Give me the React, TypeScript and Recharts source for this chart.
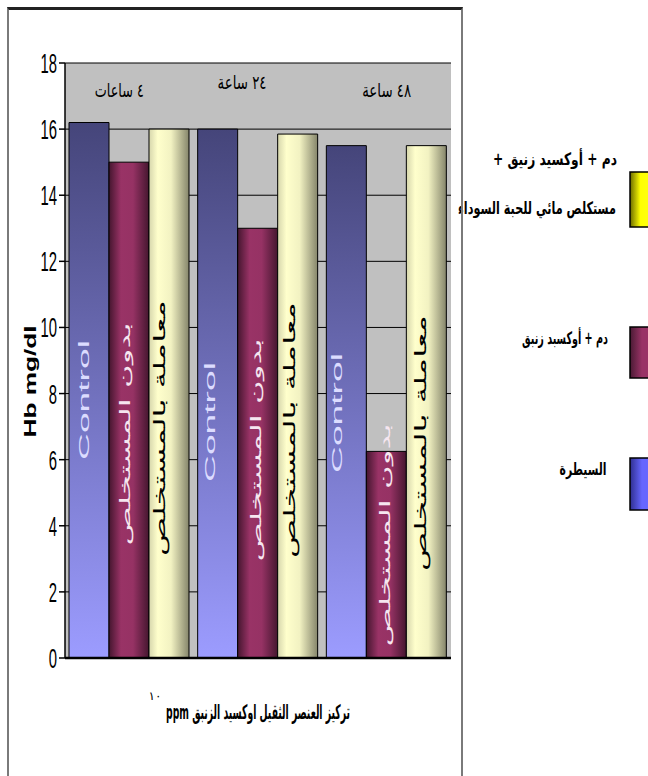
import React, { useLayoutEffect, useRef, useState } from "react";
import {
  BarChart, Bar, XAxis, YAxis, CartesianGrid, ReferenceLine,
  Legend, LabelList, Label,
} from "recharts";

// Hb level (mg/dl) per exposure time
const hours = ["٤ ساعات", "٢٤ ساعة", "٤٨ ساعة"];
const control = [16.2, 16.0, 15.5];
const untreated = [15.0, 13.0, 6.25];
const treated = [16.0, 15.85, 15.5];
const yTicks = [0, 2, 4, 6, 8, 10, 12, 14, 16, 18];

const names = {
  control: "السيطرة",
  untreated: "دم + أوكسبد زنبق",
  treated: "دم + أوكسيد زنيق  + مستكلص مائي للحبة السوداء",
};
const barTexts = {
  control: "Control",
  untreated: "بدون المستخلص",
  treated: "معاملة بالمستخلص",
};

const data = hours.map((h, i) => ({
  hours: h,
  control: control[i],
  untreated: untreated[i],
  treated: treated[i],
}));

const W = 648;
const H = 776;
const TOP = 63;
const AR = "'DejaVu Sans', sans-serif";
const LAT = "'Liberation Sans', Arial, sans-serif";

// text squeezed/stretched horizontally to a given run length
function FitText({ x, y, width, rotate = 0, children, ...rest }: any) {
  const ref = useRef<SVGTextElement>(null);
  const [k, setK] = useState(1);
  useLayoutEffect(() => {
    const w = ref.current?.getComputedTextLength();
    if (w) setK(width / w);
  }, [width, children]);
  return (
    <text
      ref={ref} x={0} y={0}
      transform={`translate(${x} ${y}) rotate(${rotate}) scale(${k} 1)`}
      textAnchor="middle" {...rest}
    >
      {children}
    </text>
  );
}

// vertical text inside each bar: placement relative to the bar foot
function barText(
  text: string, fill: string, len: number, size: number,
  rise: number[], dx: number[], family: string, dir = "ltr",
) {
  return (p: any) => {
    const { x, y, width, height, index } = p;
    const cx = Number(x) + Number(width) / 2 + dx[index];
    const cy = Number(y) + Number(height) - rise[index];
    return (
      <FitText
        x={cx} y={cy} rotate={-90} width={len} dominantBaseline="central"
        direction={dir} fill={fill} fontFamily={family} fontSize={size}
      >
        {text}
      </FitText>
    );
  };
}

function YTick({ x, y, payload }: any) {
  return (
    <text
      transform={`translate(${x} ${y + 10}) scale(0.55 1)`}
      textAnchor="end" fontSize={27} fontFamily={LAT} fill="#000"
    >
      {payload.value}
    </text>
  );
}

// category names sit inside the plot, along its top edge
const hourDx = [-10, -16, 0];
const hourDy = [34, 26, 34];
function HourTick({ x, payload, index }: any) {
  return (
    <FitText
      x={x + hourDx[index]} y={TOP + hourDy[index]} width={49}
      direction="rtl" fontSize={19} fontFamily={AR} fill="#000"
    >
      {payload.value}
    </FitText>
  );
}

function XTitle({ viewBox }: any) {
  const { x, y, width } = viewBox;
  return (
    <g>
      <FitText
        x={x + width / 2} y={y + 61} width={184} direction="rtl"
        fontSize={20} fontWeight="bold" fontFamily={AR} fill="#000"
      >
        تركيز العنصر الثقيل اوكسيد الزنبق ppm
      </FitText>
      <text x={x + 90} y={y + 42} textAnchor="middle" fontSize={12} fontFamily={AR} fill="#000">
        ١٠
      </text>
    </g>
  );
}

function YTitle({ viewBox }: any) {
  const cy = viewBox.y + viewBox.height / 2 + 21;
  return (
    <FitText
      x={30} y={cy} rotate={-90} width={112} dominantBaseline="central"
      fontSize={17} fontWeight="bold" fontFamily={LAT} fill="#000"
    >
      Hb mg/dl
    </FitText>
  );
}

// legend panel spans x 300..648, y 130..530 of the page
const legendLines: Record<string, string[]> = {
  treated: ["دم + أوكسيد زنيق  +", "مستكلص مائي للحبة السوداء"],
  untreated: [names.untreated],
  control: [names.control],
};
const legendText: Record<string, { cx: number; base: number; len: number }[]> = {
  treated: [{ cx: 255, base: 35, len: 124 }, { cx: 237, base: 84, len: 158 }],
  untreated: [{ cx: 265, base: 214, len: 86 }],
  control: [{ cx: 283, base: 345, len: 47 }],
};
const legendBox: Record<string, { y: number; h: number }> = {
  treated: { y: 42, h: 55 },
  untreated: { y: 197, h: 51 },
  control: { y: 328, h: 52 },
};

function LegendPanel({ payload }: any) {
  const items = [...(payload || [])].reverse();
  return (
    <svg width={348} height={400} style={{ overflow: "visible" }}>
      <defs>
        <linearGradient id="lgY" x1="0" y1="0" x2="1" y2="0">
          <stop offset="0%" stopColor="#6b6b00" />
          <stop offset="35%" stopColor="#ffff00" />
          <stop offset="100%" stopColor="#ffff20" />
        </linearGradient>
        <linearGradient id="lgR" x1="0" y1="0" x2="1" y2="0">
          <stop offset="0%" stopColor="#4a1a34" />
          <stop offset="40%" stopColor="#993366" />
          <stop offset="100%" stopColor="#993366" />
        </linearGradient>
        <linearGradient id="lgB" x1="0" y1="0" x2="1" y2="0">
          <stop offset="0%" stopColor="#2f2f90" />
          <stop offset="40%" stopColor="#6666ff" />
          <stop offset="100%" stopColor="#6666ff" />
        </linearGradient>
      </defs>
      {items.map((it: any) => {
        const key = String(it.dataKey);
        const grad = key === "treated" ? "lgY" : key === "untreated" ? "lgR" : "lgB";
        const box = legendBox[key];
        return (
          <g key={key}>
            {legendLines[key].map((line, i) => {
              const t = legendText[key][i];
              return (
                <FitText
                  key={i} x={t.cx} y={t.base} width={t.len} direction="rtl"
                  fontSize={17} fontWeight="bold" fontFamily={AR} fill="#000"
                >
                  {line}
                </FitText>
              );
            })}
            <rect x={330} y={box.y} width={30} height={box.h} fill={`url(#${grad})`} stroke="#000" strokeWidth={1.5} />
          </g>
        );
      })}
    </svg>
  );
}

export default function App() {
  return (
    <div style={{ position: "absolute", left: 0, top: 0, width: W, height: H, overflow: "hidden", background: "#fff" }}>
      <BarChart
        width={W} height={H} data={data}
        margin={{ top: TOP, right: 197, left: 0, bottom: 117 }}
        barCategoryGap={4} barGap={0}
      >
        <defs>
          <linearGradient id="gControl" x1="0" y1="0" x2="0" y2="1">
            <stop offset="0%" stopColor="#45457a" />
            <stop offset="100%" stopColor="#9c9cff" />
          </linearGradient>
          <linearGradient id="gUntreated" x1="0" y1="0" x2="1" y2="0">
            <stop offset="0%" stopColor="#45162f" />
            <stop offset="30%" stopColor="#993366" />
            <stop offset="60%" stopColor="#963264" />
            <stop offset="100%" stopColor="#45162f" />
          </linearGradient>
          <linearGradient id="gTreated" x1="0" y1="0" x2="1" y2="0">
            <stop offset="0%" stopColor="#d6d6ac" />
            <stop offset="22%" stopColor="#ffffcc" />
            <stop offset="55%" stopColor="#f2f2c2" />
            <stop offset="100%" stopColor="#85856b" />
          </linearGradient>
        </defs>
        <CartesianGrid vertical={false} stroke="#000" fill="#c0c0c0" />
        <XAxis
          dataKey="hours" height={1} axisLine={false} tickLine={false}
          tick={<HourTick />} interval={0}
        >
          <Label content={<XTitle />} />
        </XAxis>
        <YAxis
          width={65} domain={[0, 18]} ticks={yTicks} interval={0}
          tick={<YTick />} tickSize={6} axisLine={{ stroke: "#000", strokeWidth: 1.5 }}
          tickLine={{ stroke: "#000", strokeWidth: 1.5 }}
        >
          <Label content={<YTitle />} />
        </YAxis>
        <Legend
          layout="horizontal" verticalAlign="middle" align="center"
          wrapperStyle={{ left: 300, top: 130, width: 348, height: 400 }}
          content={<LegendPanel />}
        />
        <Bar dataKey="control" name={names.control} fill="url(#gControl)" stroke="#000" strokeWidth={1} isAnimationActive={false}>
          <LabelList dataKey="control" content={barText(barTexts.control, "#dcdcff", 120, 14, [258, 236, 245], [-5, -7, -9], LAT)} />
        </Bar>
        <Bar dataKey="untreated" name={names.untreated} fill="url(#gUntreated)" stroke="#000" strokeWidth={1} isAnimationActive={false}>
          <LabelList dataKey="untreated" content={barText(barTexts.untreated, "#f6e6f0", 223, 15, [224, 208, 123], [-4, -2, -1], AR, "rtl")} />
        </Bar>
        <Bar dataKey="treated" name={names.treated} fill="url(#gTreated)" stroke="#000" strokeWidth={1} isAnimationActive={false}>
          <LabelList dataKey="treated" content={barText(barTexts.treated, "#000", 256, 16, [230, 228, 215], [-10, -8, -6], AR, "rtl")} />
        </Bar>
        <ReferenceLine y={0} stroke="#000" strokeWidth={2.5} />
      </BarChart>
      <div
        style={{
          position: "absolute", left: 7, top: 7, width: 452, height: 800,
          borderLeft: "2px solid #7a7a7a", borderRight: "2px solid #7a7a7a",
          borderTop: "3px solid #222", pointerEvents: "none",
        }}
      />
    </div>
  );
}
